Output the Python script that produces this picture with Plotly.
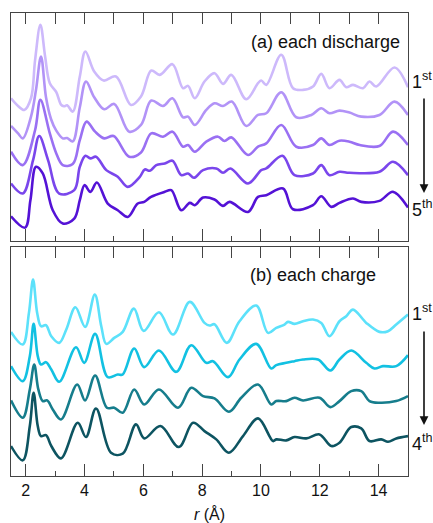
import plotly.graph_objects as go

# ---------------- data (r in Å, G(r) in arbitrary stacked units) ----------------
dis1_r = [1.50, 1.74, 1.95, 2.18, 2.32, 2.50, 2.66, 2.82, 3.04, 3.20, 3.30, 3.41, 3.60, 3.84, 4.03, 4.33, 4.65, 5.07, 5.58, 5.92, 6.27, 6.56, 6.99, 7.35, 7.52, 7.75, 8.08, 8.42, 8.71, 8.99, 9.50, 9.90, 10.01, 10.18, 10.69, 11.09, 11.43, 11.77, 12.05, 12.33, 12.67, 12.90, 13.13, 13.47, 13.69, 13.92, 14.54, 15.00]
dis1_g = [427, 404, 392, 427, 542, 647, 552, 472, 445, 408, 403, 406, 387, 492, 567, 507, 480, 492, 407, 432, 510, 497, 529, 457, 464, 427, 477, 502, 470, 497, 424, 472, 480, 467, 557, 457, 452, 462, 500, 457, 482, 460, 467, 457, 477, 462, 519, 460]

dis2_r = [1.50, 1.74, 1.90, 2.18, 2.35, 2.52, 2.69, 2.86, 3.04, 3.26, 3.41, 3.60, 3.84, 4.05, 4.33, 4.67, 5.01, 5.52, 5.92, 6.27, 6.67, 6.99, 7.35, 7.52, 7.75, 8.14, 8.42, 8.71, 9.01, 9.50, 9.90, 10.18, 10.69, 11.20, 11.71, 12.05, 12.33, 12.67, 13.01, 13.41, 14.03, 14.54, 15.00]
dis2_g = [344, 322, 307, 372, 452, 552, 430, 365, 330, 307, 308, 298, 400, 477, 430, 394, 410, 327, 347, 420, 404, 427, 370, 372, 347, 392, 412, 404, 417, 344, 377, 382, 445, 370, 377, 397, 382, 390, 384, 372, 377, 417, 377]

dis3_r = [1.50, 1.90, 2.32, 2.50, 2.82, 3.04, 3.26, 3.60, 3.84, 4.07, 4.36, 4.67, 4.99, 5.52, 5.92, 6.27, 6.67, 6.99, 7.35, 7.52, 7.75, 8.14, 8.54, 8.76, 8.99, 9.56, 9.90, 10.18, 10.69, 11.20, 11.77, 12.05, 12.33, 12.67, 13.01, 13.36, 14.03, 14.49, 15.00]
dis3_g = [267, 227, 332, 422, 322, 262, 227, 230, 302, 357, 327, 307, 314, 252, 265, 322, 312, 327, 282, 287, 267, 297, 312, 299, 310, 257, 282, 292, 347, 282, 287, 307, 287, 300, 297, 287, 284, 327, 287]

dis4_r = [1.50, 1.90, 2.25, 2.46, 2.76, 3.14, 3.65, 3.84, 4.03, 4.20, 4.39, 4.74, 5.13, 5.47, 5.88, 6.05, 6.22, 6.44, 6.73, 6.99, 7.29, 7.52, 7.72, 8.03, 8.48, 8.71, 8.96, 9.56, 10.01, 10.18, 10.73, 11.14, 11.77, 12.05, 12.33, 12.67, 13.01, 14.03, 14.49, 15.00]
dis4_g = [172, 142, 242, 314, 242, 142, 152, 222, 255, 247, 252, 212, 192, 162, 192, 214, 210, 227, 232, 240, 197, 202, 189, 212, 217, 204, 217, 172, 212, 217, 255, 197, 202, 227, 197, 207, 204, 207, 237, 197]

dis5_r = [1.50, 1.98, 2.16, 2.35, 2.58, 2.92, 3.26, 3.65, 3.84, 4.00, 4.20, 4.42, 4.79, 5.13, 5.47, 5.81, 6.03, 6.26, 6.73, 6.95, 7.29, 7.58, 7.75, 8.03, 8.42, 8.71, 8.93, 9.56, 9.90, 10.18, 10.75, 11.09, 11.77, 12.05, 12.39, 12.67, 13.13, 13.41, 14.03, 14.49, 15.00]
dis5_g = [74, 40, 122, 222, 202, 92, 52, 67, 122, 167, 147, 175, 112, 92, 72, 112, 117, 132, 147, 152, 92, 114, 107, 130, 124, 105, 117, 87, 132, 137, 157, 95, 107, 134, 102, 114, 127, 117, 120, 147, 100]

chg1_r = [1.50, 1.90, 2.11, 2.25, 2.39, 2.52, 2.69, 2.87, 3.14, 3.38, 3.69, 4.02, 4.35, 4.57, 4.74, 5.01, 5.30, 5.68, 6.01, 6.53, 7.01, 7.58, 8.08, 8.25, 8.42, 8.84, 9.27, 9.84, 10.24, 10.52, 10.80, 10.92, 11.14, 11.43, 11.77, 12.05, 12.33, 12.67, 12.90, 13.13, 13.58, 14.03, 14.32, 14.60, 15.00]
chg1_g = [433, 395, 490, 590, 490, 450, 453, 420, 400, 440, 507, 448, 545, 450, 397, 415, 433, 503, 436, 492, 425, 523, 460, 452, 456, 400, 465, 512, 430, 445, 455, 463, 457, 465, 470, 460, 420, 465, 480, 500, 460, 433, 435, 455, 485]

chg2_r = [1.50, 1.90, 2.14, 2.27, 2.41, 2.52, 2.69, 2.87, 3.14, 3.71, 3.99, 4.36, 4.79, 5.13, 5.30, 5.69, 6.03, 6.53, 7.12, 7.63, 8.14, 8.37, 8.88, 9.27, 9.84, 10.35, 10.52, 10.86, 11.14, 11.43, 11.94, 12.36, 12.67, 13.07, 13.58, 13.86, 14.15, 14.60, 15.00]
chg2_g = [330, 285, 360, 457, 360, 335, 342, 320, 283, 387, 340, 427, 297, 305, 305, 383, 327, 377, 313, 393, 340, 345, 297, 350, 397, 323, 333, 340, 345, 350, 350, 317, 350, 377, 340, 323, 330, 330, 363]

chg3_r = [1.50, 1.90, 2.14, 2.29, 2.43, 2.58, 2.73, 2.92, 3.20, 3.75, 4.02, 4.36, 4.76, 5.01, 5.30, 5.69, 6.03, 6.53, 7.18, 7.63, 8.03, 8.42, 8.91, 9.33, 9.90, 10.35, 10.52, 10.86, 11.14, 11.43, 11.99, 12.36, 12.67, 13.07, 13.41, 13.69, 14.03, 14.60, 15.00]
chg3_g = [227, 175, 260, 335, 260, 225, 227, 200, 170, 275, 227, 302, 205, 205, 190, 260, 215, 260, 205, 265, 240, 233, 193, 235, 275, 215, 225, 225, 235, 227, 235, 207, 225, 255, 255, 225, 220, 225, 240]

chg4_r = [1.50, 1.90, 2.14, 2.27, 2.41, 2.52, 2.69, 2.87, 3.20, 3.77, 4.05, 4.39, 4.90, 5.30, 5.75, 6.03, 6.58, 7.21, 7.69, 8.08, 8.48, 8.91, 9.39, 9.90, 10.41, 10.52, 10.86, 11.14, 11.54, 11.99, 12.39, 12.67, 13.07, 13.41, 13.69, 14.09, 14.32, 14.60, 15.00]
chg4_g = [90, 47, 150, 250, 150, 120, 123, 90, 53, 160, 117, 203, 70, 67, 155, 113, 150, 87, 160, 135, 110, 70, 120, 173, 105, 110, 107, 117, 113, 125, 90, 100, 147, 143, 105, 110, 103, 113, 120]

discharge = [(dis1_r, dis1_g), (dis2_r, dis2_g), (dis3_r, dis3_g), (dis4_r, dis4_g), (dis5_r, dis5_g)]
charge = [(chg1_r, chg1_g), (chg2_r, chg2_g), (chg3_r, chg3_g), (chg4_r, chg4_g)]

discharge_colors = ["#cdb9fb", "#b293f7", "#9a70f3", "#7a46ec", "#5412d6"]
charge_colors = ["#5ce1fa", "#12c1e2", "#167d8c", "#0d5461"]

x_range = [1.5, 15]
top_range = [0, 682]
bot_range = [0, 688]

# ---------------- figure ----------------
fig = go.Figure()

for (r, g), c in zip(discharge, discharge_colors):
    fig.add_trace(go.Scatter(x=r, y=g, mode="lines", xaxis="x", yaxis="y",
                             line=dict(color=c, width=2.6, shape="spline", smoothing=1.0),
                             showlegend=False, hoverinfo="skip"))
for (r, g), c in zip(charge, charge_colors):
    fig.add_trace(go.Scatter(x=r, y=g, mode="lines", xaxis="x2", yaxis="y2",
                             line=dict(color=c, width=2.6, shape="spline", smoothing=1.0),
                             showlegend=False, hoverinfo="skip"))
# carriers for the top-edge tick axes
fig.add_trace(go.Scatter(x=[None], y=[None], xaxis="x3", yaxis="y", showlegend=False, hoverinfo="skip"))
fig.add_trace(go.Scatter(x=[None], y=[None], xaxis="x4", yaxis="y2", showlegend=False, hoverinfo="skip"))

frame = "#444444"
font = "Liberation Sans, Arial, Helvetica, sans-serif"

def bottom_axis(anchor, labels):
    return dict(anchor=anchor, domain=[0, 1], range=x_range, showgrid=False, zeroline=False,
                showline=True, linecolor=frame, linewidth=1.3, mirror=True,
                ticks="inside", tick0=2, dtick=2, ticklen=12, tickwidth=1.3, tickcolor=frame,
                minor=dict(ticks="inside", dtick=1, tick0=1, ticklen=5, tickwidth=1.3, tickcolor=frame),
                showticklabels=labels, tickfont=dict(size=16, color="#111", family=font))

def top_axis(over, anchor):
    return dict(overlaying=over, anchor=anchor, side="top", range=x_range, showgrid=False,
                zeroline=False, showline=False, ticks="inside", tick0=1, dtick=1, ticklen=11,
                tickwidth=1.3, tickcolor=frame, showticklabels=False)

def y_axis(domain, rng):
    return dict(domain=domain, range=rng, showgrid=False, zeroline=False, showline=True,
                linecolor=frame, linewidth=1.3, mirror=True, ticks="", showticklabels=False)

xa2 = bottom_axis("y2", True)
xa2["title"] = dict(text="<i>r</i> (Å)", font=dict(size=16, color="#111", family=font), standoff=11)

fig.update_layout(
    width=433, height=523,
    margin=dict(l=11, r=25, t=13, b=47, autoexpand=False),
    paper_bgcolor="white", plot_bgcolor="white",
    font=dict(family=font, color="#111"),
    xaxis=bottom_axis("y", False),
    xaxis2=xa2,
    xaxis3=top_axis("x", "y"),
    xaxis4=top_axis("x2", "y2"),
    yaxis=y_axis([0.5076, 1.0], top_range),
    yaxis2=y_axis([0.0, 0.4946], bot_range),
)

ann = [
    dict(text="(a) each discharge", x=0.985, y=0.937, xanchor="right", yanchor="middle", size=18),
    dict(text="(b) each charge", x=0.924, y=0.434, xanchor="right", yanchor="middle", size=18),
    dict(text="1<sup>st</sup>", x=1.004, y=0.855, xanchor="left", yanchor="middle", size=18),
    dict(text="5<sup>th</sup>", x=1.004, y=0.578, xanchor="left", yanchor="middle", size=18),
    dict(text="1<sup>st</sup>", x=1.004, y=0.354, xanchor="left", yanchor="middle", size=18),
    dict(text="4<sup>th</sup>", x=1.004, y=0.073, xanchor="left", yanchor="middle", size=18),
]
for a in ann:
    fig.add_annotation(text=a["text"], xref="paper", yref="paper", x=a["x"], y=a["y"],
                       xanchor=a["xanchor"], yanchor=a["yanchor"], showarrow=False,
                       font=dict(size=a["size"], color="#111", family=font))

for head_y, length in [(0.611, 96), (0.110, 95)]:
    fig.add_annotation(text="", xref="paper", yref="paper", x=1.0403, y=head_y,
                       ax=0, ay=-length, showarrow=True, arrowhead=2, arrowsize=1.1,
                       arrowwidth=1.6, arrowcolor="#111")

fig.write_html("out.html", config={"displayModeBar": False},
               post_script="document.body.style.margin='0px';")
